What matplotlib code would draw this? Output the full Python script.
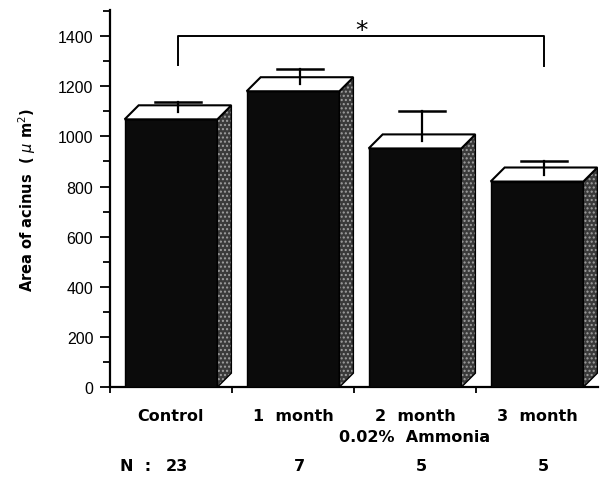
import numpy as np
import matplotlib
matplotlib.use("Agg")
import matplotlib.pyplot as plt
from matplotlib.patches import Polygon

# data
groups = ["Control", "1  month", "2  month", "3  month"]
means = [1068, 1180, 952, 820]
sem = [68, 88, 148, 80]
n_counts = ["23", "7", "5", "5"]

# 3d look of the bars (depth in data units)
dx = 0.115
dy = 56
w = 0.76

fig = plt.figure(figsize=(6.01, 4.81), dpi=100)
ax = fig.add_axes([0.183, 0.193, 0.812, 0.782])

x = np.arange(len(groups))
left = x + 0.12

ax.bar(left, means, width=w, align="edge", color="#0b0b0b", edgecolor="black",
       linewidth=1.0, zorder=3)

for xl, m in zip(left, means):
    xr = xl + w
    # side face
    side = [(xr, 0), (xr + dx, dy), (xr + dx, m + dy), (xr, m)]
    ax.add_patch(Polygon(side, closed=True, facecolor="#3a3a3a", edgecolor="#a0a0a0",
                         hatch="....", linewidth=0, zorder=3))
    ax.add_patch(Polygon(side, closed=True, fill=False, edgecolor="black",
                         linewidth=1.0, zorder=4))
    # top face
    top = [(xl, m), (xl + dx, m + dy), (xr + dx, m + dy), (xr, m)]
    ax.add_patch(Polygon(top, closed=True, facecolor="white", edgecolor="black",
                         linewidth=1.5, zorder=4))

# error bars from the middle of the top face
cap = 0.19
for xl, m, e in zip(left, means, sem):
    xc = xl + w / 2 + dx / 2
    ax.plot([xc, xc], [m + dy / 2, m + e], color="black", lw=1.6, zorder=5)
    ax.plot([xc - cap, xc + cap], [m + e, m + e], color="black", lw=1.8, zorder=5)

# significance bracket control vs 3 month
xa = left[0] + w / 2 + dx / 2
xb = left[3] + w / 2 + dx / 2
ax.plot([xa, xa, xb, xb], [1285, 1400, 1400, 1280], color="black", lw=1.4, zorder=5)
ax.text((xa + xb) / 2, 1395, "*", ha="center", va="baseline", fontsize=18,
        family="DejaVu Sans")

ax.set_xlim(0, 4)
ax.set_ylim(0, 1500)
ax.spines["top"].set_visible(False)
ax.spines["right"].set_visible(False)
ax.spines["left"].set_linewidth(1.6)
ax.spines["bottom"].set_linewidth(1.6)
ax.spines["left"].set_bounds(0, 1505)

ax.set_yticks(np.arange(0, 1401, 200))
ax.set_yticks(np.arange(100, 1501, 200), minor=True)
ax.tick_params(axis="y", which="major", direction="out", length=7, width=1.3, pad=5,
               labelsize=11.5)
ax.tick_params(axis="y", which="minor", direction="out", length=5, width=1.3)
for lab in ax.get_yticklabels():
    lab.set_family("Liberation Sans")

ax.set_xticks([0, 1, 2, 3])
ax.set_xticklabels([])
ax.set_xticks(x + 0.5, minor=True)
ax.set_xticklabels(groups, minor=True, fontsize=11.5, fontweight="bold",
                   family="DejaVu Sans")
ax.tick_params(axis="x", which="major", direction="out", length=4, width=1.3)
ax.tick_params(axis="x", which="minor", length=0, pad=15)

trans = ax.get_xaxis_transform()
ax.text(2.5, -0.13, "0.02%  Ammonia", transform=trans,
        ha="center", va="center", fontsize=11.5, fontweight="bold")

# N row
ax.text(0.08, -0.208, "N  :", transform=trans, ha="left", va="center",
        fontsize=11.5, fontweight="bold")
for xi, n in zip(x, n_counts):
    ax.text(xi + 0.55, -0.208, n, transform=trans, ha="center", va="center",
            fontsize=11.5, fontweight="bold")

ax.set_ylabel("Area of acinus  ( $\\mu$ m$^{2}$)", fontsize=10.5, fontweight="bold",
              labelpad=14)

fig.savefig("out.png", dpi=100)
